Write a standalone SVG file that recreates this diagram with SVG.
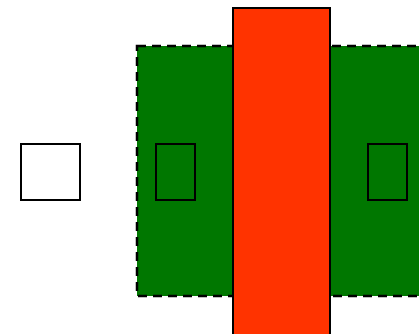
<svg xmlns="http://www.w3.org/2000/svg" width="419" height="334" viewBox="0 0 419 334">
<style>
.box{fill:none;stroke:#000;stroke-width:2}
</style>
<rect width="419" height="334" fill="#fff"/>
<g id="green-area"><rect x="137" y="46" width="300" height="250" fill="#007700" stroke="#000" stroke-width="2.5" stroke-dasharray="9,6"/></g>
<g id="left-box"><rect class="box" x="21" y="144" width="59" height="56" style="fill:#fff"/></g>
<g id="inner-box-1"><rect class="box" x="156" y="144" width="39" height="56"/></g>
<g id="inner-box-2"><rect class="box" x="368" y="144" width="39" height="56"/></g>
<g id="red-bar"><rect x="233" y="8" width="97" height="340" fill="#ff3300" stroke="#000" stroke-width="2"/></g>
<g id="connectors"></g>
</svg>
